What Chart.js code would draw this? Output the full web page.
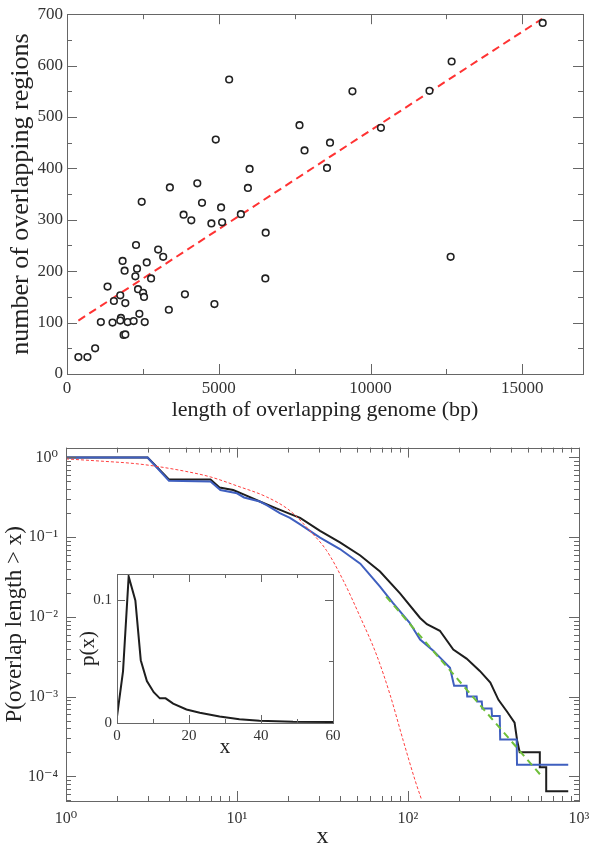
<!DOCTYPE html>
<html>
<head>
<meta charset="utf-8">
<script src="https://cdn.jsdelivr.net/npm/chart.js@4.4.0/dist/chart.umd.min.js"></script>
<style>
body { margin: 0; background: #fff; }
#wrap { position: relative; width: 600px; height: 849px; }
canvas { position: absolute; left: 0; }
</style>
</head>
<body>
<div id="wrap">
<canvas id="topChart" width="600" height="430" style="top:0"></canvas>
<canvas id="cdfChart" width="600" height="419" style="top:430px"></canvas>
<canvas id="pdfChart" width="285" height="200" style="top:560px;left:60px"></canvas>
</div>
<script>
// top panel: regions vs genome length
var genomeLength = [375,673,927,1115,1336,1500,1545,1755,1777,1755,1832,1898,1921,1865,1921,1998,2196,2274,2307,2252,
  2340,2384,2506,2538,2561,2461,2627,2770,3003,3169,3355,3389,3841,4095,3885,4293,4448,4757,4857,5077,
  5110,5728,5960,6546,6534,5342,4901,6016,7660,7826,8665,8566,9404,10342,11943,12672,15672,12639];
var overlapRegions = [33,33,50,101,170,100,142,153,109,104,220,201,138,76,77,101,103,251,205,190,
  165,117,158,150,101,335,217,186,242,228,125,363,310,299,155,371,333,293,136,324,
  295,311,362,275,186,573,456,399,484,435,450,401,550,479,551,608,683,228];
var fitLength = [375, 15650];
var fitRegions = [104, 691];
var topXTicks = [0, 5000, 10000, 15000];
var topYTicks = [0, 100, 200, 300, 400, 500, 600, 700];

// bottom panel: cumulative distributions
var allX = [1,3,4,7,7.9,9.5,11.1,13.6,17,20.4,23.4,30.6,40,52.6,68.6,89.8,117.7,129,153.6,184,220,263,303,338,379,420,435,450,590,590,643,643,865];
var allP = [1,1,0.53,0.53,0.42,0.39,0.34,0.28,0.23,0.196,0.175,0.12,0.086,0.059,0.037,0.0197,0.0097,0.0081,0.0067,0.0039,0.003,0.0021,0.0015,0.00091,0.00065,0.00047,0.00028,0.0002,0.0002,0.00013,0.00013,0.000065,0.000065];
var filtX = [1,3,4,7,8,10,11,13.6,15,17.8,20.4,23.4,30.6,40,52.6,68.6,81.8,102,117.7,140,176,186,220,222,252,254,270,272,308,310,344,346,432,434,865];
var filtP = [1,1,0.51,0.5,0.39,0.355,0.315,0.28,0.25,0.2,0.175,0.145,0.099,0.071,0.0465,0.024,0.0149,0.0085,0.0052,0.0038,0.0023,0.00137,0.00137,0.001,0.001,0.00087,0.00087,0.00071,0.00071,0.00057,0.00057,0.00029,0.00029,0.00014,0.00014];
var expX = [1,1.6,2.5,3.3,5,7,10,14.9,20.4,26.7,33.4,41.7,52.3,65.6,78.6,93.8,110,120];
var expP = [0.96,0.9,0.84,0.78,0.67,0.57,0.44,0.32,0.215,0.12,0.068,0.029,0.0102,0.0033,0.00105,0.00028,0.000089,0.000051];
var powX = [74.5, 605];
var powP = [0.018, 0.0001];
var cdfXTicks = [1, 10, 100, 1000];
var cdfYTicks = [0.0001, 0.001, 0.01, 0.1, 1];

// inset: p(x)
var pdfX = [0,1.67,3.24,5.1,6.6,8.3,10.2,11.9,13.5,15.6,19.3,23,28.5,34,39.6,48.9,60];
var pdfP = [0.0052,0.042,0.119,0.0995,0.051,0.034,0.025,0.02,0.02,0.0157,0.011,0.0084,0.0052,0.0031,0.0018,0.001,0.0008];
var pdfXTicks = [0, 20, 40, 60];
var pdfYTicks = [0, 0.1];

Chart.defaults.font.family = "'Liberation Serif', 'DejaVu Serif', serif";
Chart.defaults.color = '#333';

function pairs(xs, ys) {
  return xs.map(function (x, i) { return {x: x, y: ys[i]}; });
}
function plain(v) { return String(v); }
var sup = {'0':'⁰','1':'¹','2':'²','3':'³','4':'⁴','5':'⁵','-':'⁻'};
function pow10Label(v) {
  var e = String(Math.round(Math.log10(v)));
  return '10' + e.split('').map(function (c) { return sup[c]; }).join('');
}
function logMinors(lo, hi) {
  var out = [];
  for (var d = lo; d < hi; d++) {
    for (var m = 2; m < 10; m++) out.push(m * Math.pow(10, d));
  }
  return out;
}
function fixTicks(list) {
  return function (s) { s.ticks = list.map(function (v) { return {value: v}; }); };
}

// inward tick marks + frame
var tickMarks = {
  id: 'tickMarks',
  afterDatasetsDraw: function (chart, args, o) {
    var ctx = chart.ctx, a = chart.chartArea;
    ctx.save();
    ctx.strokeStyle = o.color;
    ctx.lineWidth = 1;
    ctx.strokeRect(Math.round(a.left) + 0.5, Math.round(a.top) + 0.5, Math.round(a.right - a.left), Math.round(a.bottom - a.top));
    ctx.beginPath();
    ['x', 'y'].forEach(function (id) {
      var sc = chart.scales[id];
      [['major', o.majorLen], ['minor', o.minorLen]].forEach(function (k) {
        o[id][k[0]].forEach(function (v) {
          if (v < sc.min || v > sc.max) return;
          var p = Math.round(sc.getPixelForValue(v)) + 0.5;
          var len = k[1];
          if (id === 'x') {
            ctx.moveTo(p, a.bottom); ctx.lineTo(p, a.bottom - len);
            ctx.moveTo(p, a.top); ctx.lineTo(p, a.top + len);
          } else {
            ctx.moveTo(a.left, p); ctx.lineTo(a.left + len, p);
            ctx.moveTo(a.right, p); ctx.lineTo(a.right - len, p);
          }
        });
      });
    });
    ctx.stroke();
    ctx.restore();
  }
};

var noGrid = {display: false, drawTicks: false};

new Chart(document.getElementById('topChart'), {
  type: 'scatter',
  data: {
    datasets: [{
      data: pairs(genomeLength, overlapRegions),
      pointRadius: 3.3,
      pointBorderWidth: 1.6,
      pointBorderColor: '#222',
      pointBackgroundColor: '#fff'
    }, {
      data: pairs(fitLength, fitRegions),
      showLine: true,
      pointRadius: 0,
      borderColor: '#ff3333',
      borderWidth: 2,
      borderDash: [8, 5]
    }]
  },
  options: {
    responsive: false,
    animation: false,
    layout: {padding: {top: 12, right: 17, left: 0, bottom: 0}},
    plugins: {
      legend: {display: false},
      tooltip: {enabled: false},
      tickMarks: {
        color: '#666', majorLen: 10, minorLen: 5,
        x: {major: [5000, 10000, 15000], minor: [2500, 7500, 12500]},
        y: {major: topYTicks, minor: [50, 150, 250, 350, 450, 550, 650]}
      }
    },
    scales: {
      x: {
        type: 'linear', min: 0, max: 17000,
        afterBuildTicks: fixTicks(topXTicks),
        grid: noGrid, border: {display: false},
        ticks: {padding: 4, maxRotation: 0, font: {size: 17}, callback: plain},
        title: {display: true, text: 'length of overlapping genome (bp)', color: '#222',
          font: {size: 22, lineHeight: 1.2}, padding: {top: 0, bottom: 7}},
        afterFit: function (s) { s.height = 56; }
      },
      y: {
        min: 0, max: 700,
        afterBuildTicks: fixTicks(topYTicks),
        grid: noGrid, border: {display: false},
        ticks: {padding: 4, font: {size: 17}, callback: plain},
        title: {display: true, text: 'number of overlapping regions', color: '#222',
          font: {size: 26, lineHeight: 1.2}, padding: {top: 6, bottom: 0}},
        afterFit: function (s) { s.width = 67; }
      }
    }
  },
  plugins: [tickMarks]
});

new Chart(document.getElementById('cdfChart'), {
  type: 'scatter',
  data: {
    datasets: [{
      data: pairs(powX, powP),
      showLine: true, pointRadius: 0,
      borderColor: '#6fbf3a', borderWidth: 2, borderDash: [7, 5]
    }, {
      data: pairs(expX, expP),
      showLine: true, pointRadius: 0, cubicInterpolationMode: 'monotone',
      borderColor: '#ff4040', borderWidth: 1, borderDash: [3, 2]
    }, {
      data: pairs(filtX, filtP),
      showLine: true, pointRadius: 0,
      borderColor: '#3f5fbf', borderWidth: 2
    }, {
      data: pairs(allX, allP),
      showLine: true, pointRadius: 0,
      borderColor: '#1e1e1e', borderWidth: 2
    }]
  },
  options: {
    responsive: false,
    animation: false,
    layout: {padding: {top: 12, right: 21, left: 0, bottom: 0}},
    plugins: {
      legend: {display: false},
      tooltip: {enabled: false},
      tickMarks: {
        color: '#666', majorLen: 10, minorLen: 5,
        x: {major: cdfXTicks, minor: logMinors(0, 3)},
        y: {major: cdfYTicks, minor: logMinors(-5, 0)}
      }
    },
    scales: {
      x: {
        type: 'logarithmic', min: 1, max: 1000,
        afterBuildTicks: fixTicks(cdfXTicks),
        grid: noGrid, border: {display: false},
        ticks: {padding: 8, maxRotation: 0, font: {size: 16}, callback: pow10Label},
        title: {display: true, text: 'x', color: '#222',
          font: {size: 24, lineHeight: 1}, padding: {top: 0, bottom: 0}},
        afterFit: function (s) { s.height = 48; }
      },
      y: {
        type: 'logarithmic', min: 0.000049, max: 1.33,
        afterBuildTicks: fixTicks(cdfYTicks),
        grid: noGrid, border: {display: false},
        ticks: {padding: 8, font: {size: 16}, callback: pow10Label},
        title: {display: true, text: 'P(overlap length > x)', color: '#222',
          font: {size: 23, lineHeight: 1.2}, padding: {top: 1, bottom: 0}},
        afterFit: function (s) { s.width = 66; }
      }
    }
  },
  plugins: [tickMarks]
});

new Chart(document.getElementById('pdfChart'), {
  type: 'scatter',
  data: {
    datasets: [{
      data: pairs(pdfX, pdfP),
      showLine: true, pointRadius: 0,
      borderColor: '#1e1e1e', borderWidth: 2
    }]
  },
  options: {
    responsive: false,
    animation: false,
    layout: {padding: {top: 10, right: 12, left: 0, bottom: 0}},
    plugins: {
      legend: {display: false},
      tooltip: {enabled: false},
      tickMarks: {
        color: '#666', majorLen: 8, minorLen: 4,
        x: {major: pdfXTicks, minor: [10, 30, 50]},
        y: {major: pdfYTicks, minor: [0.05]}
      }
    },
    scales: {
      x: {
        type: 'linear', min: 0, max: 60,
        afterBuildTicks: fixTicks(pdfXTicks),
        grid: noGrid, border: {display: false},
        ticks: {padding: 4, maxRotation: 0, font: {size: 15}, callback: plain},
        title: {display: true, text: 'x', color: '#222',
          font: {size: 21, lineHeight: 1}, padding: {top: 0, bottom: 2}},
        afterFit: function (s) { s.height = 37; }
      },
      y: {
        min: 0, max: 0.121,
        afterBuildTicks: fixTicks(pdfYTicks),
        grid: noGrid, border: {display: false},
        ticks: {padding: 5, font: {size: 15}, callback: plain},
        title: {display: true, text: 'p(x)', color: '#222',
          font: {size: 21, lineHeight: 1.2}, padding: {top: 16, bottom: 0}},
        afterFit: function (s) { s.width = 57; }
      }
    }
  },
  plugins: [tickMarks]
});
</script>
</body>
</html>
